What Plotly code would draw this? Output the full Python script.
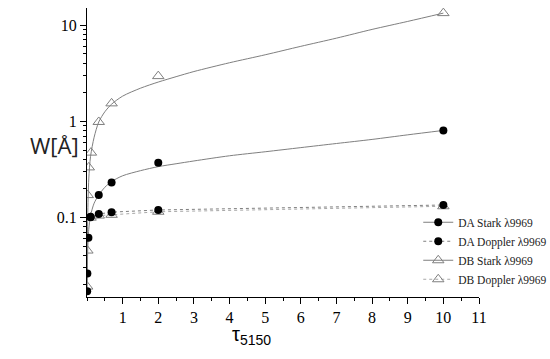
import plotly.graph_objects as go

# ---- data ----
da_stark_tau = [0.005, 0.01, 0.04, 0.1, 0.33, 0.69, 2.0, 10.0]
da_stark_w = [0.017, 0.026, 0.061, 0.100, 0.170, 0.230, 0.368, 0.80]

da_doppler_tau = [0.1, 0.33, 0.69, 2.0, 10.0]
da_doppler_w = [0.101, 0.108, 0.113, 0.119, 0.134]

db_stark_tau = [0.005, 0.01, 0.02, 0.05, 0.11, 0.33, 0.69, 2.0, 10.0]
db_stark_w = [0.019, 0.045, 0.17, 0.33, 0.47, 0.98, 1.53, 2.94, 13.3]

db_doppler_tau = [0.1, 0.33, 0.69, 2.0, 10.0]
db_doppler_w = [0.099, 0.104, 0.106, 0.114, 0.130]

# fitted curves
fit_tau = [0.005, 0.02, 0.05, 0.1, 0.2, 0.33, 0.5, 0.69, 1.0, 1.5, 2.0, 2.5, 3.0, 4.0, 5.0, 6.0, 7.0, 8.0, 9.0, 10.0]
da_fit_w = [0.017, 0.045, 0.075, 0.104, 0.14, 0.17, 0.205, 0.235, 0.27, 0.305, 0.336, 0.36, 0.385, 0.436, 0.48, 0.53, 0.585, 0.645, 0.72, 0.80]
db_fit_w = [0.022, 0.10, 0.25, 0.43, 0.68, 0.98, 1.25, 1.50, 1.82, 2.2, 2.55, 2.9, 3.28, 4.05, 4.9, 6.0, 7.3, 9.0, 10.9, 13.3]

legend_names = ["DA Stark \u03bb9969", "DA Doppler \u03bb9969", "DB Stark \u03bb9969", "DB Doppler \u03bb9969"]

x_ticks = [1, 2, 3, 4, 5, 6, 7, 8, 9, 10, 11]
y_ticks = [0.1, 1, 10]
y_ticktext = ["0.1", "1", "10"]
y_minor = [0.02, 0.03, 0.04, 0.05, 0.06, 0.07, 0.08, 0.09,
           0.2, 0.3, 0.4, 0.5, 0.6, 0.7, 0.8, 0.9,
           2, 3, 4, 5, 6, 7, 8, 9]

GRAY = "#7f7f7f"
LIGHT = "#a8a8a8"
SERIF = "Liberation Serif, Times New Roman, serif"

fig = go.Figure()

# fit curves
fig.add_trace(go.Scatter(x=fit_tau, y=da_fit_w, mode="lines", line=dict(color=GRAY, width=1, shape="spline", smoothing=0.8),
                         showlegend=False, hoverinfo="skip"))
fig.add_trace(go.Scatter(x=fit_tau, y=db_fit_w, mode="lines", line=dict(color=GRAY, width=1, shape="spline", smoothing=0.8),
                         showlegend=False, hoverinfo="skip"))

# Doppler dotted lines + markers
fig.add_trace(go.Scatter(x=db_doppler_tau, y=db_doppler_w, mode="lines+markers",
                         line=dict(color=LIGHT, width=1, dash="dot"),
                         marker=dict(symbol="triangle-up-open", size=10, color=GRAY, line=dict(width=1)),
                         showlegend=False))
fig.add_trace(go.Scatter(x=da_doppler_tau, y=da_doppler_w, mode="lines+markers",
                         line=dict(color=GRAY, width=1, dash="dot"),
                         marker=dict(symbol="circle", size=8, color="black"),
                         showlegend=False))

# Stark data points
fig.add_trace(go.Scatter(x=db_stark_tau, y=db_stark_w, mode="markers",
                         marker=dict(symbol="triangle-up-open", size=10, color=GRAY, line=dict(width=1)),
                         showlegend=False))
fig.add_trace(go.Scatter(x=da_stark_tau, y=da_stark_w, mode="markers",
                         marker=dict(symbol="circle", size=8, color="black"),
                         showlegend=False))

# legend entries
fig.add_trace(go.Scatter(x=[None], y=[None], mode="lines+markers", name=legend_names[0],
                         line=dict(color=GRAY, width=1), marker=dict(symbol="circle", size=8, color="black")))
fig.add_trace(go.Scatter(x=[None], y=[None], mode="lines+markers", name=legend_names[1],
                         line=dict(color=GRAY, width=1, dash="dot"), marker=dict(symbol="circle", size=8, color="black")))
fig.add_trace(go.Scatter(x=[None], y=[None], mode="lines+markers", name=legend_names[2],
                         line=dict(color=GRAY, width=1),
                         marker=dict(symbol="triangle-up-open", size=10, color=GRAY, line=dict(width=1))))
fig.add_trace(go.Scatter(x=[None], y=[None], mode="lines+markers", name=legend_names[3],
                         line=dict(color=LIGHT, width=1, dash="dot"),
                         marker=dict(symbol="triangle-up-open", size=10, color=GRAY, line=dict(width=1))))

fig.update_layout(
    width=550, height=359,
    margin=dict(l=87, r=71, t=8, b=62, autoexpand=False),
    paper_bgcolor="white", plot_bgcolor="white",
    showlegend=True,
    legend=dict(x=0.845, y=0.16, xanchor="left", yanchor="middle",
                font=dict(family=SERIF, size=11.5, color="#222"),
                bgcolor="rgba(0,0,0,0)", traceorder="normal"),
    font=dict(family=SERIF, size=16, color="black"),
)

fig.update_xaxes(range=[0, 11], tickmode="array", tickvals=x_ticks,
                 showline=True, linecolor="black", linewidth=1,
                 ticks="outside", ticklen=6, tickcolor="black",
                 minor=dict(ticks="outside", ticklen=3, dtick=0.5, tick0=0, tickcolor="black"),
                 showgrid=False, zeroline=False,
                 tickfont=dict(family=SERIF, size=16))
fig.update_yaxes(type="log", range=[-1.83, 1.177], tickmode="array", tickvals=y_ticks, ticktext=y_ticktext,
                 showline=True, linecolor="black", linewidth=1,
                 ticks="outside", ticklen=6, tickcolor="black",
                 minor=dict(ticks="outside", ticklen=3, tickmode="array", tickvals=y_minor, tickcolor="black"),
                 showgrid=False, zeroline=False,
                 tickfont=dict(family=SERIF, size=16))

fig.add_annotation(text="W[\u00c5]", xref="paper", yref="paper", x=-0.15, y=0.526,
                   showarrow=False, font=dict(family="Open Sans, sans-serif", size=22, color="#222"))
fig.add_annotation(text="\u03c4<sub>5150</sub>", xref="paper", yref="paper", x=0.42, y=-0.185,
                   showarrow=False, font=dict(family="Liberation Sans, Arial, sans-serif", size=20, color="black"))

fig.write_html("out.html", config={"displayModeBar": False},
               post_script="document.body.style.margin='0px';")
